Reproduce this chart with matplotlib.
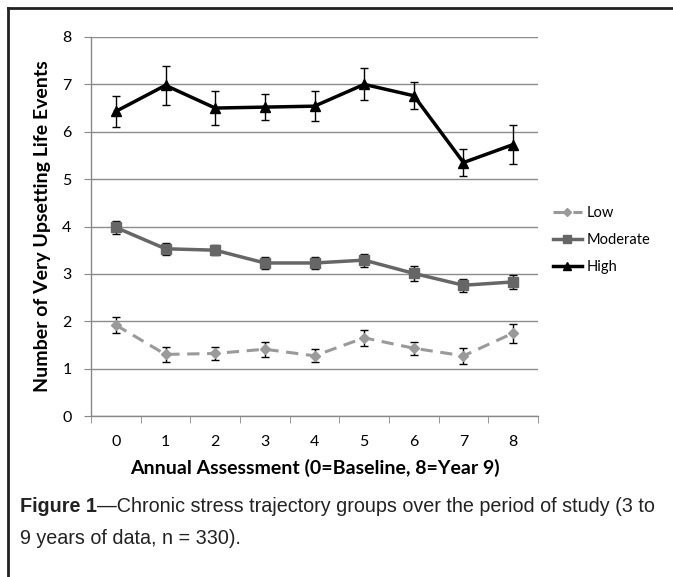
import matplotlib
matplotlib.use("Agg")
import matplotlib.pyplot as plt
from matplotlib.lines import Line2D

assessments = [0, 1, 2, 3, 4, 5, 6, 7, 8]
low = [1.92, 1.30, 1.32, 1.41, 1.27, 1.65, 1.43, 1.27, 1.75]
low_err = [0.17, 0.15, 0.14, 0.16, 0.14, 0.17, 0.14, 0.17, 0.20]
moderate = [3.98, 3.53, 3.50, 3.23, 3.23, 3.29, 3.01, 2.76, 2.83]
moderate_err = [0.13, 0.13, 0.11, 0.12, 0.12, 0.14, 0.15, 0.14, 0.14]
high = [6.43, 6.98, 6.50, 6.52, 6.54, 7.00, 6.76, 5.35, 5.73]
high_err = [0.33, 0.41, 0.35, 0.28, 0.31, 0.34, 0.29, 0.29, 0.41]
series_names = ["Low", "Moderate", "High"]
yticks = [0, 1, 2, 3, 4, 5, 6, 7, 8]

chart_font = ["Lato", "DejaVu Sans"]
cap_font = ["Liberation Sans", "DejaVu Sans"]

fig = plt.figure(figsize=(6.73, 5.77), dpi=100)
ax = fig.add_axes([91/673, 1-416/577, (538-91)/673, (416-37)/577])

styles = [
    dict(color="#9a9a9a", ls=(0, (4, 2.5)), marker="D", ms=5, lw=2.2),
    dict(color="#666666", ls="-", marker="s", ms=7, lw=2.5),
    dict(color="#000000", ls="-", marker="^", ms=7, lw=2.5),
]
for vals, errs, st in zip([low, moderate, high], [low_err, moderate_err, high_err], styles):
    ax.errorbar(assessments, vals, yerr=errs, fmt="none", ecolor="black", elinewidth=1.0,
                capsize=3, capthick=1.0, zorder=2)
    ax.plot(assessments, vals, color=st["color"], ls=st["ls"], lw=st["lw"], marker=st["marker"],
            ms=st["ms"], mfc=st["color"], mec=st["color"], zorder=3)

ax.set_xlim(-0.5, 8.5)
ax.set_ylim(0, 8)
ax.set_yticks(yticks)
ax.set_xticks(assessments)
ax.set_xticks([i - 0.5 for i in range(10)], minor=True)
ax.tick_params(axis="x", which="major", length=0, pad=14, labelsize=11.5)
ax.tick_params(axis="x", which="minor", length=5, color="#888888", direction="out")
ax.tick_params(axis="y", length=5, color="#888888", direction="out", pad=9, labelsize=11.5)
for lab in ax.get_xticklabels() + ax.get_yticklabels():
    lab.set_family(chart_font)
ax.grid(axis="y", color="#8c8c8c", lw=1.0)
ax.set_axisbelow(True)
for s in ["top", "right"]:
    ax.spines[s].set_visible(False)
for s in ["left", "bottom"]:
    ax.spines[s].set_color("#888888")
    ax.spines[s].set_linewidth(1.0)

ax.set_xlabel("Annual Assessment (0=Baseline, 8=Year 9)", family=chart_font, fontsize=14,
              fontweight="bold", labelpad=7)
ax.set_ylabel("Number of Very Upsetting Life Events", family=chart_font, fontsize=14,
              fontweight="bold", labelpad=8)

handles = [Line2D([], [], color=st["color"], ls=st["ls"], lw=st["lw"], marker=st["marker"],
                  ms=st["ms"] - 1, mfc=st["color"], mec=st["color"]) for st in styles]
leg = ax.legend(handles, series_names, loc="center left", bbox_to_anchor=(1.02, 0.464),
                borderaxespad=0, frameon=False, handlelength=2.0, handletextpad=0.3,
                labelspacing=0.9, prop={"family": chart_font, "size": 10.5})

# outer border (top and left)
fig.add_artist(Line2D([8/673, 1], [1-8/577, 1-8/577], color="#222222", lw=2, transform=fig.transFigure))
fig.add_artist(Line2D([8/673, 8/673], [1-8/577, 0], color="#222222", lw=2, transform=fig.transFigure))

t1 = fig.text(20/673, 1-516/577, "Figure 1", family=cap_font, fontsize=14.2, fontweight="bold",
              color="#222222", va="bottom")
ax.annotate("\u2014Chronic stress trajectory groups over the period of study (3 to",
            xy=(1, 0), xycoords=t1, va="bottom", ha="left", family=cap_font, fontsize=14.2,
            color="#222222", annotation_clip=False)
fig.text(20/673, 1-548/577, "9 years of data, n = 330).", family=cap_font, fontsize=14.2,
         color="#222222", va="bottom")

fig.savefig("out.png", dpi=100)
